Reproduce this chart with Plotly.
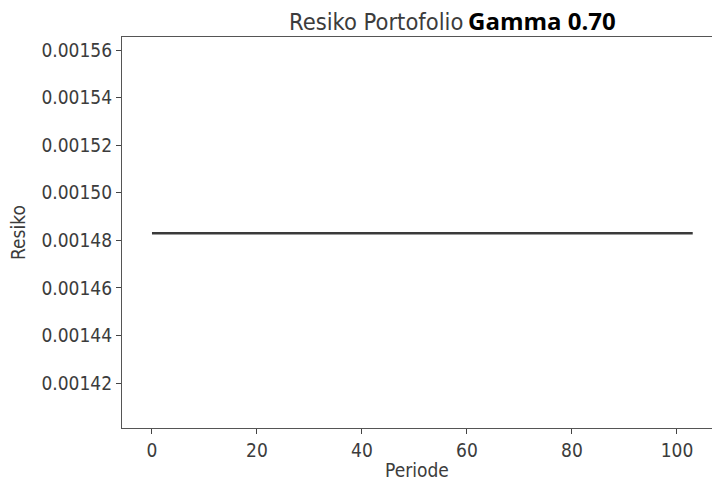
import plotly.graph_objects as go

periods = list(range(104))
risk_values = [0.001483] * len(periods)
x_ticks = [0, 20, 40, 60, 80, 100]
y_ticks = [0.00142, 0.00144, 0.00146, 0.00148, 0.00150, 0.00152, 0.00154, 0.00156]
y_tick_labels = ["0.00142", "0.00144", "0.00146", "0.00148", "0.00150", "0.00152", "0.00154", "0.00156"]

FONT = "DejaVu Sans Condensed, DejaVu Sans"
axis_font = dict(family=FONT, size=19, color="#3c3c3c")

fig = go.Figure()
fig.add_trace(go.Scatter(x=periods, y=risk_values, mode="lines",
                         line=dict(color="#3a3a3a", width=2.5), showlegend=False))

fig.update_layout(
    width=712, height=488,
    margin=dict(l=122, r=0, t=37, b=60, autoexpand=False),
    paper_bgcolor="white", plot_bgcolor="white",
    xaxis=dict(range=[-5.71, 106.67], tickvals=x_ticks, ticks="outside", ticklen=5,
               tickcolor="#444", showline=True, linecolor="#555", linewidth=1.3, mirror=True,
               showgrid=False, zeroline=False, tickfont=axis_font,
               title=dict(text="Periode", font=axis_font, standoff=3)),
    yaxis=dict(range=[0.0014011, 0.0015655], tickvals=y_ticks, ticktext=y_tick_labels,
               ticks="outside", ticklen=5, tickcolor="#444", showline=True, linecolor="#555",
               linewidth=1.3, showgrid=False, zeroline=False, tickfont=axis_font,
               title=dict(text="Resiko", font=axis_font, standoff=10)),
)
fig.add_annotation(text="Resiko Portofolio", xref="paper", yref="paper", x=(464-122)/590, y=1.0,
                   xanchor="right", yanchor="bottom", yshift=0, showarrow=False, borderpad=0,
                   font=dict(family=FONT, size=23.5, color="#3c3c3c"))
fig.add_annotation(text="<b>Gamma 0.70</b>", xref="paper", yref="paper", x=(467-122)/590, y=1.0,
                   xanchor="left", yanchor="bottom", yshift=-1, showarrow=False, borderpad=0,
                   font=dict(family="Open Sans", size=24, color="#000000"))
fig.write_html("out.html", config={"displayModeBar": False},
               post_script="document.body.style.margin='0';document.body.style.overflow='hidden';")
